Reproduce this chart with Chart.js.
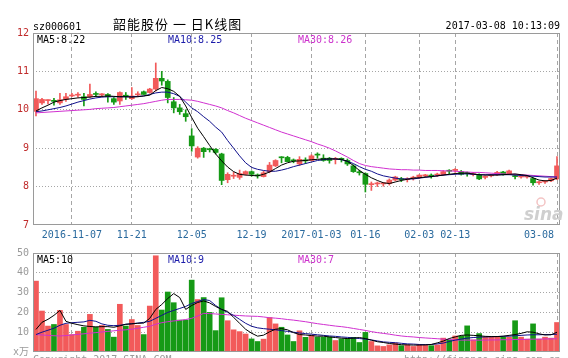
<!DOCTYPE html>
<html><head><meta charset="utf-8">
<script src="https://cdn.jsdelivr.net/npm/chart.js@4"></script>
<style>
html,body{margin:0;padding:0;background:#fff;}
#wrap{position:relative;width:568px;height:358px;overflow:hidden;background:#fff;}
#c1{position:absolute;left:0;top:0;}
#c2{position:absolute;left:0;top:245px;}
</style></head><body>
<div id="wrap"><canvas id="c1" width="568" height="245"></canvas><canvas id="c2" width="568" height="113"></canvas></div>
<script>
const dates = ['2016-10-28','2016-10-31','2016-11-01','2016-11-02','2016-11-03','2016-11-04','2016-11-07','2016-11-08','2016-11-09','2016-11-10','2016-11-11','2016-11-14','2016-11-15','2016-11-16','2016-11-17','2016-11-18','2016-11-21','2016-11-22','2016-11-23','2016-11-24','2016-11-25','2016-11-28','2016-11-29','2016-11-30','2016-12-01','2016-12-02','2016-12-05','2016-12-06','2016-12-07','2016-12-08','2016-12-09','2016-12-12','2016-12-13','2016-12-14','2016-12-15','2016-12-16','2016-12-19','2016-12-20','2016-12-21','2016-12-22','2016-12-23','2016-12-26','2016-12-27','2016-12-28','2016-12-29','2016-12-30','2017-01-03','2017-01-04','2017-01-05','2017-01-06','2017-01-09','2017-01-10','2017-01-11','2017-01-12','2017-01-13','2017-01-16','2017-01-17','2017-01-18','2017-01-19','2017-01-20','2017-01-23','2017-01-24','2017-01-25','2017-01-26','2017-02-03','2017-02-06','2017-02-07','2017-02-08','2017-02-09','2017-02-10','2017-02-13','2017-02-14','2017-02-15','2017-02-16','2017-02-17','2017-02-20','2017-02-21','2017-02-22','2017-02-23','2017-02-24','2017-02-27','2017-02-28','2017-03-01','2017-03-02','2017-03-03','2017-03-06','2017-03-07','2017-03-08'];

const openP  = [9.96,10.18,10.24,10.24,10.18,10.27,10.36,10.38,10.34,10.34, 10.41,10.39,10.40,10.29,10.23,10.38,10.29,10.39,10.47,10.45, 10.54,10.82,10.74,10.21,10.05,9.90,9.32,8.77,9.00,8.97, 8.97,8.85,8.18,8.27,8.24,8.32,8.39,8.29,8.26,8.39, 8.54,8.77,8.76,8.68,8.59,8.68,8.68,8.83,8.74,8.74, 8.71,8.72,8.68,8.54,8.37,8.34,8.05,8.07,8.07,8.08, 8.17,8.20,8.18,8.22,8.24,8.28,8.30,8.30,8.31,8.41, 8.42,8.39,8.35,8.31,8.30,8.24,8.28,8.31,8.38,8.33, 8.28,8.25,8.25,8.21,8.10,8.12,8.15,8.20];
const highP  = [10.49,10.30,10.26,10.30,10.43,10.43,10.43,10.45,10.43,10.67, 10.47,10.42,10.42,10.32,10.47,10.45,10.58,10.47,10.49,10.56, 11.22,11.00,10.78,10.32,10.14,10.00,9.51,9.04,9.02,9.00, 8.99,8.87,8.36,8.38,8.43,8.41,8.41,8.33,8.40,8.63, 8.70,8.78,8.79,8.72,8.78,8.75,8.83,8.88,8.83,8.76, 8.76,8.75,8.72,8.57,8.43,8.36,8.12,8.12,8.11,8.20, 8.27,8.24,8.23,8.27,8.31,8.32,8.33,8.35,8.42,8.44, 8.47,8.42,8.38,8.37,8.33,8.28,8.32,8.40,8.40,8.43, 8.31,8.28,8.28,8.23,8.14,8.16,8.22,8.78];
const lowP   = [9.84,10.14,10.15,10.12,10.14,10.22,10.34,10.33,10.10,10.32, 10.34,10.35,10.20,10.14,10.14,10.27,10.27,10.34,10.40,10.43, 10.49,10.64,10.18,9.92,9.88,9.70,8.92,8.74,8.76,8.90, 8.85,8.05,8.10,8.21,8.19,8.30,8.27,8.22,8.25,8.36, 8.52,8.62,8.65,8.62,8.55,8.60,8.67,8.74,8.66,8.61, 8.59,8.64,8.55,8.37,8.30,7.86,7.90,8.00,8.01,8.04, 8.15,8.13,8.12,8.17,8.21,8.24,8.22,8.26,8.29,8.33, 8.37,8.30,8.27,8.28,8.18,8.20,8.25,8.29,8.30,8.31, 8.20,8.22,8.22,8.04,8.06,8.08,8.13,8.18];
const closeP = [10.29,10.27,10.25,10.22,10.26,10.34,10.37,10.40,10.27,10.40, 10.40,10.40,10.34,10.20,10.45,10.34,10.36,10.40,10.40,10.54, 10.82,10.75,10.32,10.05,9.95,9.82,9.06,9.00,8.91,8.96, 8.89,8.16,8.32,8.28,8.34,8.39,8.32,8.28,8.36,8.56, 8.68,8.75,8.65,8.67,8.71,8.67,8.80,8.82,8.68,8.68, 8.72,8.71,8.59,8.39,8.36,8.06,8.07,8.08,8.08,8.17, 8.25,8.18,8.19,8.23,8.30,8.29,8.27,8.32,8.39,8.40, 8.45,8.32,8.34,8.32,8.20,8.25,8.29,8.37,8.32,8.41, 8.26,8.26,8.26,8.10,8.11,8.14,8.21,8.54];

const ma5  = [9.97,10.05,10.12,10.20,10.24,10.27,10.29,10.31,10.32,10.33, 10.35,10.35,10.36,10.35,10.34,10.34,10.33,10.34,10.36,10.38, 10.50,10.58,10.55,10.48,10.35,10.10,9.80,9.52,9.30,9.07, 8.85,8.67,8.51,8.39,8.32,8.30,8.29,8.28,8.32,8.38, 8.47,8.56,8.62,8.66,8.67,8.68,8.70,8.71,8.72,8.72, 8.72,8.71,8.66,8.55,8.42,8.32,8.23,8.16,8.10,8.08, 8.12,8.16,8.19,8.22,8.23,8.25,8.26,8.28,8.30,8.32, 8.34,8.35,8.35,8.33,8.31,8.30,8.30,8.30,8.31,8.32, 8.33,8.31,8.29,8.23,8.17,8.15,8.16,8.22];
const ma10 = [9.95,9.97,10.00,10.03,10.06,10.10,10.15,10.20,10.24,10.28, 10.31,10.33,10.34,10.34,10.34,10.34,10.34,10.35,10.36,10.40, 10.44,10.46,10.46,10.42,10.35,10.20,10.05,9.95,9.82,9.70, 9.55,9.42,9.20,9.00,8.80,8.62,8.50,8.45,8.42,8.40, 8.40,8.43,8.47,8.52,8.56,8.60,8.64,8.68,8.70,8.72, 8.72,8.70,8.66,8.60,8.52,8.45,8.40,8.33,8.28,8.25, 8.22,8.20,8.20,8.20,8.22,8.24,8.26,8.28,8.30,8.31, 8.32,8.33,8.33,8.32,8.31,8.31,8.31,8.31,8.31,8.31, 8.30,8.29,8.28,8.27,8.26,8.25,8.25,8.25];
const ma30 = [9.92,9.93,9.94,9.95,9.96,9.97,9.98,9.99,10.00,10.01, 10.03,10.04,10.05,10.06,10.08,10.10,10.12,10.14,10.16,10.19, 10.22,10.25,10.27,10.27,10.27,10.26,10.25,10.22,10.18,10.14, 10.10,10.05,9.98,9.92,9.85,9.78,9.72,9.66,9.60,9.54, 9.48,9.42,9.37,9.32,9.27,9.22,9.17,9.11,9.06,9.00, 8.93,8.85,8.77,8.68,8.60,8.55,8.52,8.50,8.48,8.46, 8.45,8.44,8.44,8.43,8.43,8.42,8.42,8.42,8.41,8.41, 8.40,8.39,8.38,8.37,8.37,8.36,8.35,8.34,8.33,8.32, 8.32,8.31,8.30,8.29,8.28,8.27,8.26,8.25];

const volume  = [35.8,20.7,13.1,13.9,21.0,13.9,8.8,10.5,12.5,19.0, 12.5,13.4,11.4,7.5,24.1,13.1,16.4,13.4,8.8,23.2, 48.6,21.2,30.3,24.9,16.1,16.1,36.3,26.5,27.5,20.0, 10.8,27.4,15.8,11.2,10.3,9.1,6.6,5.3,6.5,17.4, 14.2,12.5,8.6,5.3,10.7,7.4,8.5,7.5,7.5,7.6, 5.8,6.6,6.8,7.4,4.8,9.9,5.3,3.1,2.8,3.6, 4.5,3.2,3.6,2.8,3.6,3.6,3.2,3.6,7.0,6.1, 8.1,8.1,13.2,6.1,9.3,7.5,7.5,7.5,7.5,7.5, 15.8,7.5,6.5,14.2,6.5,7.5,7.0,14.9];
const volMa5  = [11.4,15.0,16.5,18.5,21.0,15.5,14.5,13.8,13.2,12.9, 12.7,12.8,12.8,12.5,13.2,14.0,14.2,14.5,14.6,17.0, 21.5,24.0,27.0,29.5,27.5,21.5,23.5,25.0,25.8,24.8, 23.0,21.5,20.5,17.5,14.5,11.5,9.5,8.0,8.5,10.2, 11.5,11.8,11.2,9.8,8.8,8.6,8.3,8.0,8.0,7.6, 7.3,7.0,6.8,7.0,7.3,6.8,6.0,5.2,4.8,4.3, 4.0,3.7,3.6,3.5,3.5,3.6,3.8,4.6,5.5,6.8, 7.6,8.4,8.6,8.4,8.2,7.9,7.8,7.8,8.0,8.4, 8.8,9.4,10.2,10.0,9.2,8.6,8.7,10.0];
const volMa10 = [8.8,10.0,11.0,12.0,13.5,14.5,14.8,15.0,15.2,16.0, 15.5,14.2,13.5,13.3,13.5,14.0,14.3,14.6,15.0,15.5, 17.0,18.5,20.0,21.0,22.0,23.0,24.5,25.5,26.5,26.0, 23.5,21.5,20.0,18.5,16.5,14.5,13.0,12.2,11.8,11.5, 11.2,10.8,10.4,10.0,9.6,9.3,9.0,8.7,8.4,8.1, 7.9,7.6,7.4,7.1,6.8,6.5,6.1,5.6,5.1,4.9, 4.7,4.4,4.1,4.0,3.8,3.7,3.8,4.1,4.5,5.3, 6.0,6.5,7.0,7.3,7.5,7.6,7.7,7.8,7.9,8.0, 8.2,8.4,8.6,8.7,8.7,8.8,8.8,9.0];
const volMa30 = [8.8,8.6,8.4,8.2,8.1,8.3,8.6,8.9,9.2,9.5, 9.8,10.1,10.4,10.7,11.0,11.2,11.5,12.0,12.5,13.0, 14.0,14.8,15.3,15.7,16.0,16.4,17.0,18.2,19.5,19.4, 19.2,19.0,18.8,18.6,18.4,18.2,18.1,18.0,17.7,17.3, 17.1,16.8,16.4,16.1,15.7,15.3,14.8,14.3,13.9,13.5, 13.1,12.8,12.4,11.9,11.4,10.9,10.3,9.8,9.4,9.0, 8.5,8.1,7.8,7.6,7.3,7.1,6.9,6.7,6.5,6.3, 6.1,6.0,6.0,6.0,6.0,6.0,6.1,6.1,6.2,6.2, 6.3,6.3,6.4,6.5,6.5,6.6,6.6,6.7];

const tickDates  = ['2016-11-07','2016-11-21','2016-12-05','2016-12-19','2017-01-03','2017-01-16','2017-02-03','2017-02-13','2017-03-08'];
const tickLabels = ['2016-11-07','11-21','12-05','12-19','2017-01-03','01-16','02-03','02-13','03-08'];
const priceMaLabels = ['MA5:8.22','MA10:8.25','MA30:8.26'];
const volMaLabels = ['MA5:10','MA10:9','MA30:7'];
const stockCode = 'sz000601';
const titleText = '韶能股份 一 日K线图';
const stampText = '2017-03-08 10:13:09';

const RED = '#f25a5a', GREEN = '#169a16';
const MONO = "'DejaVu Sans Mono', 'Liberation Mono', monospace";
Chart.defaults.font.family = MONO + ", 'Noto Sans CJK SC'";
Chart.defaults.font.size = 10;

const upDay = closeP.map((c, i) => c >= openP[i]);
const dayColors = upDay.map(u => u ? RED : GREEN);
const tickIdx = tickDates.map(d => dates.indexOf(d));
const GRID = '#a6a6a6';
const TRANSP = 'rgba(0,0,0,0)';

const framePlugin = {
  id: 'frame',
  afterDraw(chart) {
    const {ctx, chartArea: a} = chart;
    ctx.save();
    ctx.strokeStyle = '#9a9a9a';
    ctx.lineWidth = 1;
    ctx.strokeRect(a.left + 0.5, a.top + 0.5, a.right - a.left - 1, a.bottom - a.top - 1);
    ctx.restore();
  }
};

const priceText = {
  id: 'priceText',
  afterDraw(chart) {
    const ctx = chart.ctx;
    ctx.save();
    ctx.fillStyle = '#000';
    ctx.textBaseline = 'alphabetic';
    ctx.font = '10px ' + MONO;
    ctx.textAlign = 'left';
    ctx.fillText(stockCode, 33, 30);
    ctx.textAlign = 'right';
    ctx.fillText(stampText, 560, 29);
    ctx.textAlign = 'left';
    ctx.font = "13px 'Noto Sans CJK SC'";
    try { ctx.letterSpacing = '1px'; } catch (e) {}
    ctx.fillText(titleText, 113, 29);
    try { ctx.letterSpacing = '0px'; } catch (e) {}
    ctx.font = '10px ' + MONO;
    ctx.fillStyle = '#000';
    ctx.fillText(priceMaLabels[0], 37, 43);
    ctx.fillStyle = '#1c1caa';
    ctx.fillText(priceMaLabels[1], 168, 43);
    ctx.fillStyle = '#cc33cc';
    ctx.fillText(priceMaLabels[2], 298, 43);
    // sina watermark
    ctx.strokeStyle = '#f3c4c4';
    ctx.lineWidth = 1.5;
    ctx.beginPath(); ctx.arc(541, 202, 4, 0, Math.PI * 2); ctx.stroke();
    ctx.fillStyle = '#cfcfcf';
    ctx.font = "italic bold 17px 'DejaVu Sans', sans-serif";
    ctx.fillText('sina', 524, 220);
    ctx.restore();
  }
};

const volText = {
  id: 'volText',
  afterDraw(chart) {
    const ctx = chart.ctx;
    ctx.save();
    ctx.textBaseline = 'alphabetic';
    ctx.textAlign = 'left';
    ctx.font = '10px ' + MONO;
    ctx.fillStyle = '#000';
    ctx.fillText(volMaLabels[0], 37, 18);
    ctx.fillStyle = '#1c1caa';
    ctx.fillText(volMaLabels[1], 168, 18);
    ctx.fillStyle = '#cc33cc';
    ctx.fillText(volMaLabels[2], 298, 18);
    ctx.fillStyle = '#9a9a9a';
    ctx.textBaseline = 'top';
    ctx.fillText('Copyright 2017 SINA.COM', 33, 110);
    ctx.fillText('http://finance.sina.com.cn', 404, 110);
    ctx.restore();
  }
};

function lineDs(data, color) {
  return {type: 'line', data, borderColor: color, borderWidth: 1, pointRadius: 0, tension: 0, fill: false, order: 0};
}

function xScale(showLabels) {
  return {
    offset: true,
    grid: {offset: false, drawTicks: false, color: ctx => tickIdx.includes(ctx.index) ? GRID : TRANSP},
    border: {display: false, dash: [4, 3]},
    ticks: {
      display: showLabels, autoSkip: false, maxRotation: 0, minRotation: 0, padding: 4, color: '#2a6a9e',
      callback: (v, i) => {
        const k = tickIdx.indexOf(i);
        if (k < 0) return '';
        return k === tickIdx.length - 1 ? tickLabels[k] + '      ' : tickLabels[k];
      }
    },
    afterFit: s => { s.height = showLabels ? 20 : 0; s.paddingLeft = 0; s.paddingRight = 0; }
  };
}

new Chart(document.getElementById('c1'), {
  type: 'bar',
  data: {
    labels: dates,
    datasets: [
      lineDs(ma5, '#000000'),
      lineDs(ma10, '#10108c'),
      lineDs(ma30, '#d030d0'),
      {data: openP.map((o, i) => [o, closeP[i]]), backgroundColor: dayColors, borderWidth: 0, barThickness: 5, minBarLength: 1, grouped: false, order: 1},
      {data: lowP.map((l, i) => [l, highP[i]]), backgroundColor: dayColors, borderWidth: 0, barThickness: 1, minBarLength: 1, grouped: false, order: 2}
    ]
  },
  options: {
    responsive: false, animation: false, devicePixelRatio: 1,
    layout: {padding: {top: 33, right: 8, left: 0, bottom: 0}},
    plugins: {legend: {display: false}, tooltip: {enabled: false}},
    scales: {
      x: xScale(true),
      y: {
        min: 7, max: 12,
        ticks: {stepSize: 1, padding: 4, color: '#c02a2a'},
        grid: {drawTicks: false, color: ctx => (ctx.tick && ctx.tick.value > 7 && ctx.tick.value < 12) ? GRID : TRANSP},
        border: {display: false, dash: [1, 2]},
        afterFit: s => { s.width = 33; s.paddingTop = 0; s.paddingBottom = 0; }
      }
    }
  },
  plugins: [framePlugin, priceText]
});

new Chart(document.getElementById('c2'), {
  type: 'bar',
  data: {
    labels: dates,
    datasets: [
      lineDs(volMa5, '#000000'),
      lineDs(volMa10, '#10108c'),
      lineDs(volMa30, '#d030d0'),
      {data: volume, backgroundColor: dayColors, borderWidth: 0, barThickness: 5, grouped: false, order: 1}
    ]
  },
  options: {
    responsive: false, animation: false, devicePixelRatio: 1,
    layout: {padding: {top: 8, right: 8, left: 0, bottom: 6}},
    plugins: {legend: {display: false}, tooltip: {enabled: false}},
    scales: {
      x: xScale(false),
      y: {
        min: 0, max: 50,
        ticks: {stepSize: 10, padding: 4, color: '#9a9a9a', callback: v => v === 0 ? 'x万' : String(v)},
        grid: {drawTicks: false, color: ctx => (ctx.tick && ctx.tick.value > 0 && ctx.tick.value < 50) ? GRID : TRANSP},
        border: {display: false, dash: [1, 2]},
        afterFit: s => { s.width = 33; s.paddingTop = 0; s.paddingBottom = 0; }
      }
    }
  },
  plugins: [framePlugin, volText]
});
</script>
</body></html>
